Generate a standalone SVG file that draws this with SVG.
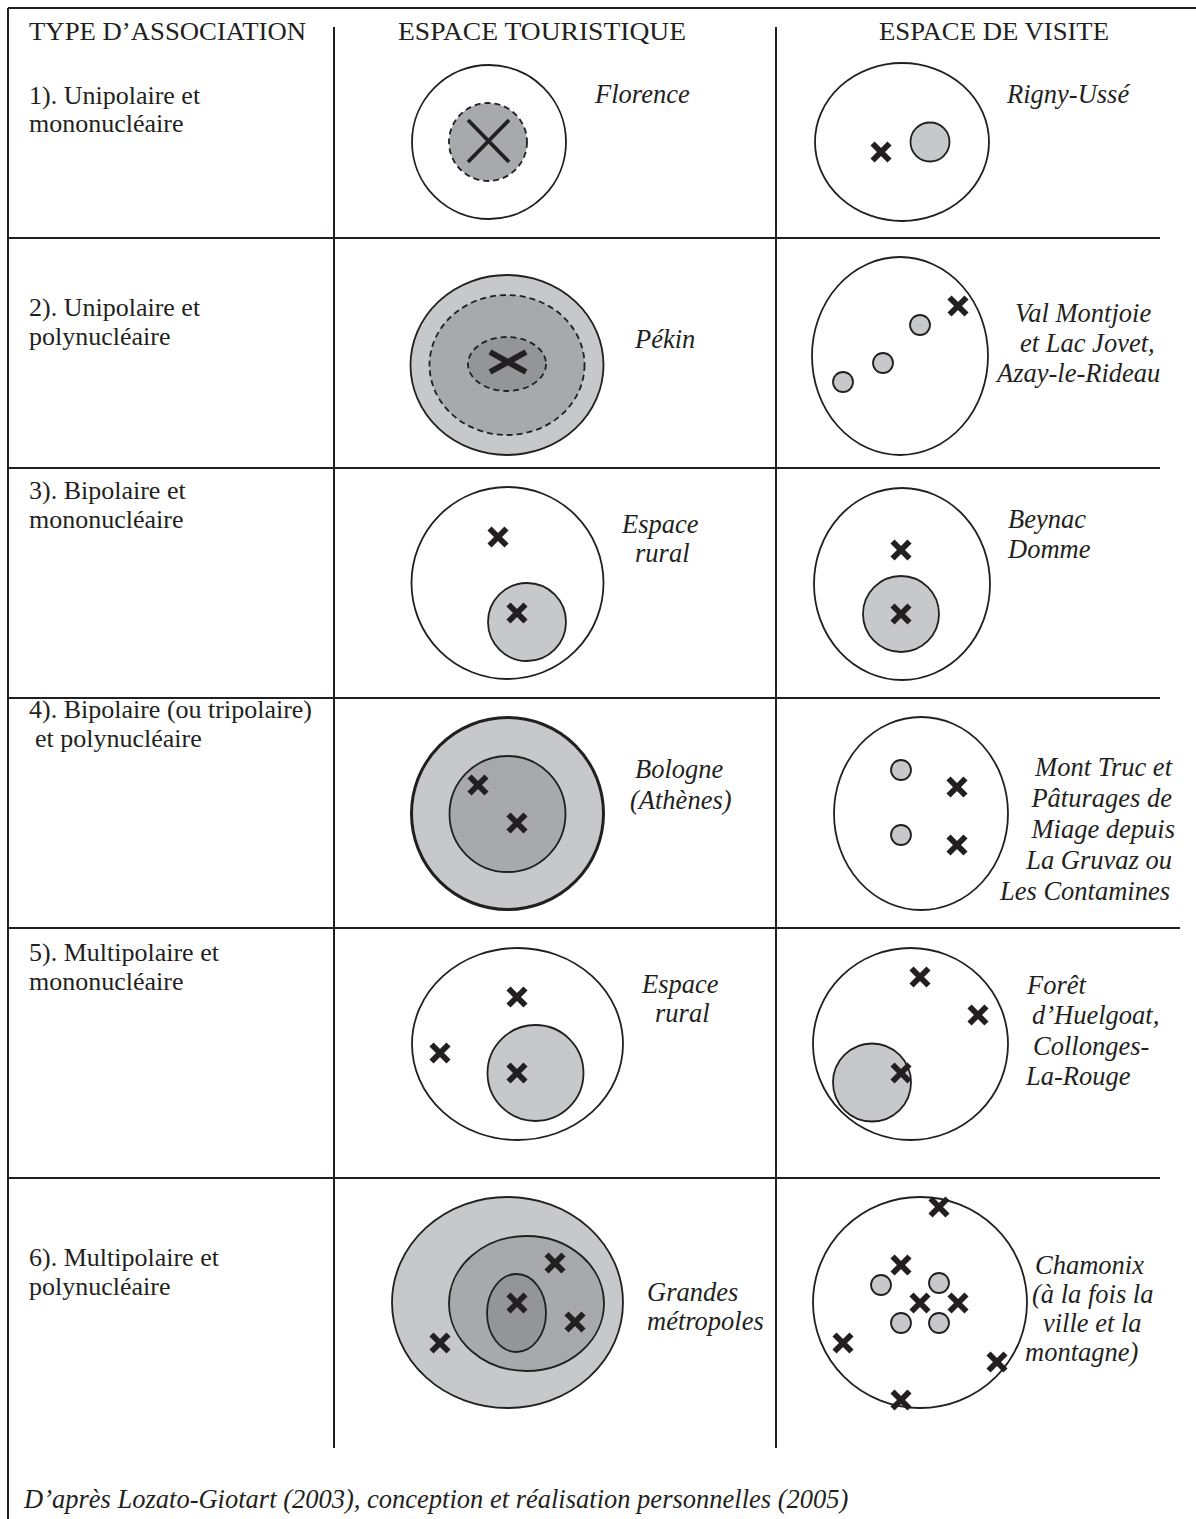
<svg xmlns="http://www.w3.org/2000/svg" xmlns:xlink="http://www.w3.org/1999/xlink" width="1196" height="1519" viewBox="0 0 1196 1519">
<style>
.grid{stroke:#231f20;stroke-width:2;fill:none}
.ring{stroke:#231f20;stroke-width:1.8}
.thick{stroke-width:3}
.dash{stroke-dasharray:6 4}
.w{fill:#ffffff}.g1{fill:#c7c8ca}.g2{fill:#a7a9ac}.g3{fill:#939598}
text{font-family:"Liberation Serif","Times New Roman",serif;fill:#231f20}
.hd{font-size:26px}
.lb{font-size:26px}
.it{font-size:26.5px;font-style:italic}
.mk{stroke:#231f20;stroke-width:5.8;fill:none}
</style>
<defs>
<path id="x" class="mk" d="M-8.5,-8.5L8.5,8.5M8.5,-8.5L-8.5,8.5"/>
</defs>
<rect width="1196" height="1519" fill="#ffffff"/>

<!-- table frame and separators -->
<g id="grid" class="grid">
<line x1="8" y1="8" x2="1196" y2="8"/>
<line x1="8" y1="8" x2="8" y2="1519"/>
<line x1="334" y1="27" x2="334" y2="1448"/>
<line x1="776" y1="27" x2="776" y2="1448"/>
<line x1="8" y1="238" x2="1160" y2="238"/>
<line x1="8" y1="468" x2="1160" y2="468"/>
<line x1="8" y1="698" x2="1160" y2="698"/>
<line x1="8" y1="928" x2="1180" y2="928"/>
<line x1="8" y1="1178" x2="1160" y2="1178"/>
</g>

<!-- column headers -->
<g id="headers">
<text class="hd" x="29" y="40" textLength="277" lengthAdjust="spacingAndGlyphs">TYPE D’ASSOCIATION</text>
<text class="hd" x="398" y="40" textLength="288" lengthAdjust="spacingAndGlyphs">ESPACE TOURISTIQUE</text>
<text class="hd" x="879" y="40" textLength="230" lengthAdjust="spacingAndGlyphs">ESPACE DE VISITE</text>
</g>

<!-- row labels -->
<g id="types">
<text class="lb" x="29" y="104">1). Unipolaire et</text>
<text class="lb" x="29" y="132">mononucléaire</text>
<text class="lb" x="29" y="316">2). Unipolaire et</text>
<text class="lb" x="29" y="345">polynucléaire</text>
<text class="lb" x="29" y="499">3). Bipolaire et</text>
<text class="lb" x="29" y="528">mononucléaire</text>
<text class="lb" x="29" y="718">4). Bipolaire (ou tripolaire)</text>
<text class="lb" x="35" y="747">et polynucléaire</text>
<text class="lb" x="29" y="961">5). Multipolaire et</text>
<text class="lb" x="29" y="990">mononucléaire</text>
<text class="lb" x="29" y="1266">6). Multipolaire et</text>
<text class="lb" x="29" y="1295">polynucléaire</text>
</g>

<!-- 1) unipolar, mononuclear -->
<g id="tour-1">
<circle class="ring w" cx="489" cy="142" r="77"/>
<circle class="ring g2 dash" cx="488" cy="142" r="39"/>
<path d="M468,120L509,162M509,120L468,162" stroke="#231f20" stroke-width="3.8" fill="none"/>
<text class="it" x="595" y="103">Florence</text>
</g>
<g id="visit-1">
<ellipse class="ring w" cx="902" cy="142" rx="87" ry="79"/>
<circle class="ring g1" cx="930" cy="142" r="19.5"/>
<use xlink:href="#x" x="881" y="152"/>
<text class="it" x="1007" y="103">Rigny-Ussé</text>
</g>

<!-- 2) unipolar, polynuclear -->
<g id="tour-2">
<ellipse class="ring g1" cx="507" cy="365" rx="96.5" ry="90"/>
<ellipse class="ring g2 dash" cx="507" cy="365" rx="77.5" ry="70"/>
<ellipse class="ring g3 dash" cx="507" cy="364" rx="39" ry="27"/>
<path d="M490,352L526,372M526,352L490,372" stroke="#231f20" stroke-width="6" fill="none"/>
<text class="it" x="635" y="348">Pékin</text>
</g>
<g id="visit-2">
<ellipse class="ring w" cx="900" cy="356" rx="88" ry="99"/>
<circle class="ring g1" cx="843" cy="382" r="10"/>
<circle class="ring g1" cx="883" cy="363" r="10"/>
<circle class="ring g1" cx="920" cy="325" r="10"/>
<use xlink:href="#x" x="958" y="306"/>
<text class="it" x="1015" y="322">Val Montjoie</text>
<text class="it" x="1020" y="352">et Lac Jovet,</text>
<text class="it" x="997" y="382">Azay-le-Rideau</text>
</g>

<!-- 3) bipolar, mononuclear -->
<g id="tour-3">
<circle class="ring w" cx="507.5" cy="583" r="96"/>
<circle class="ring g1" cx="527" cy="622" r="39"/>
<use xlink:href="#x" x="498" y="537"/>
<use xlink:href="#x" x="517" y="613"/>
<text class="it" x="622" y="533">Espace</text>
<text class="it" x="635" y="562">rural</text>
</g>
<g id="visit-3">
<ellipse class="ring w" cx="902" cy="584" rx="88" ry="96"/>
<circle class="ring g1" cx="901" cy="614" r="38"/>
<use xlink:href="#x" x="901" y="550"/>
<use xlink:href="#x" x="901" y="614"/>
<text class="it" x="1008" y="528">Beynac</text>
<text class="it" x="1008" y="558">Domme</text>
</g>

<!-- 4) bipolar (or tripolar), polynuclear -->
<g id="tour-4">
<circle class="ring g1 thick" cx="507.5" cy="813.5" r="96"/>
<circle class="ring g2" cx="507.5" cy="814" r="58"/>
<use xlink:href="#x" x="478" y="785"/>
<use xlink:href="#x" x="517" y="823"/>
<text class="it" x="635" y="778">Bologne</text>
<text class="it" x="630" y="809">(Athènes)</text>
</g>
<g id="visit-4">
<ellipse class="ring w" cx="921" cy="813.5" rx="87" ry="96.5"/>
<circle class="ring g1" cx="901" cy="770" r="10"/>
<circle class="ring g1" cx="901" cy="835" r="10"/>
<use xlink:href="#x" x="957" y="787"/>
<use xlink:href="#x" x="957" y="845"/>
<g text-anchor="end">
<text class="it" x="1172" y="776">Mont Truc et</text>
<text class="it" x="1172" y="807">Pâturages de</text>
<text class="it" x="1175" y="838">Miage depuis</text>
<text class="it" x="1172" y="869">La Gruvaz ou</text>
<text class="it" x="1170" y="900">Les Contamines</text>
</g>
</g>

<!-- 5) multipolar, mononuclear -->
<g id="tour-5">
<ellipse class="ring w" cx="517.5" cy="1044" rx="105.5" ry="96"/>
<circle class="ring g1" cx="535.5" cy="1073" r="48"/>
<use xlink:href="#x" x="517" y="997"/>
<use xlink:href="#x" x="440" y="1053"/>
<use xlink:href="#x" x="517" y="1073"/>
<text class="it" x="642" y="993">Espace</text>
<text class="it" x="655" y="1022">rural</text>
</g>
<g id="visit-5">
<ellipse class="ring w" cx="910.5" cy="1044" rx="97.5" ry="96"/>
<circle class="ring g1" cx="872" cy="1082.5" r="39"/>
<use xlink:href="#x" x="920" y="977"/>
<use xlink:href="#x" x="978" y="1015"/>
<use xlink:href="#x" x="901" y="1073"/>
<text class="it" x="1027" y="994">Forêt</text>
<text class="it" x="1032" y="1024">d’Huelgoat,</text>
<text class="it" x="1033" y="1055">Collonges-</text>
<text class="it" x="1026" y="1085">La-Rouge</text>
</g>

<!-- 6) multipolar, polynuclear -->
<g id="tour-6">
<ellipse class="ring g1" cx="507.5" cy="1302.5" rx="115.5" ry="105.5"/>
<ellipse class="ring g2" cx="526.5" cy="1303.5" rx="77.5" ry="67.5"/>
<ellipse class="ring g3" cx="516.5" cy="1313" rx="29.5" ry="39"/>
<use xlink:href="#x" x="555" y="1263"/>
<use xlink:href="#x" x="517" y="1303"/>
<use xlink:href="#x" x="575" y="1322"/>
<use xlink:href="#x" x="440" y="1343"/>
<text class="it" x="647" y="1301">Grandes</text>
<text class="it" x="647" y="1330">métropoles</text>
</g>
<g id="visit-6">
<ellipse class="ring w" cx="920" cy="1302.5" rx="107" ry="105.5"/>
<circle class="ring g1" cx="881" cy="1285" r="10"/>
<circle class="ring g1" cx="939" cy="1283" r="10"/>
<circle class="ring g1" cx="901" cy="1323" r="10"/>
<circle class="ring g1" cx="939" cy="1323" r="10"/>
<use xlink:href="#x" x="939" y="1207"/>
<use xlink:href="#x" x="901" y="1265"/>
<use xlink:href="#x" x="920" y="1303"/>
<use xlink:href="#x" x="958" y="1303"/>
<use xlink:href="#x" x="843" y="1343"/>
<use xlink:href="#x" x="997" y="1362"/>
<use xlink:href="#x" x="901" y="1400"/>
<text class="it" x="1035" y="1274">Chamonix</text>
<text class="it" x="1032" y="1303">(à la fois la</text>
<text class="it" x="1043" y="1332">ville et la</text>
<text class="it" x="1025" y="1361">montagne)</text>
</g>

<!-- source line -->
<g id="source">
<text class="it" x="24" y="1508">D’après Lozato-Giotart (2003), conception et réalisation personnelles (2005)</text>
</g>
</svg>
